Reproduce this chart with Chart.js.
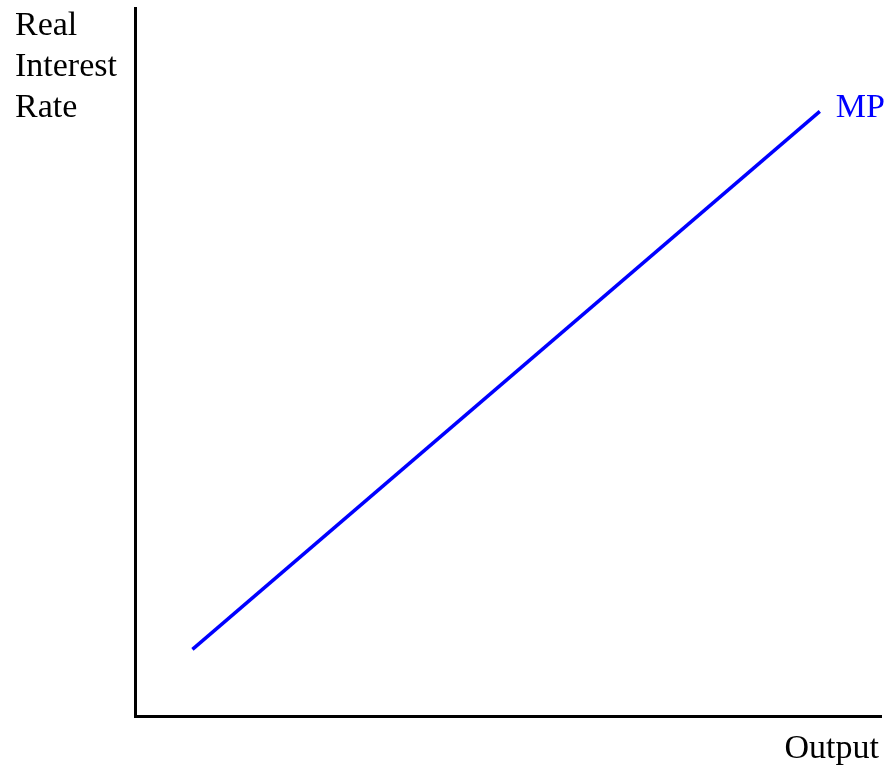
<!DOCTYPE html>
<html>
<head>
    <title>MP Curve</title>
    <script src="https://cdn.jsdelivr.net/npm/chart.js@4"></script>
    <style>
        body { margin: 0; background: #fff; }
    </style>
</head>
<body>
    <canvas id="mpChart" width="891" height="767"></canvas>

    <script>
        // MP curve, two end points (axes 0..100)
        const outputVals = [7.7, 91.8];
        const rateVals = [9.4, 85.4];
        const curveName = 'MP';
        const yTitleLines = ['Real', 'Interest', 'Rate'];
        const xTitle = 'Output';

        const serif = '34px "Liberation Serif", "Times New Roman", serif';

        const labelPlugin = {
            id: 'labels',
            afterDraw(chart) {
                const ctx = chart.ctx;
                const area = chart.chartArea;
                ctx.save();
                ctx.font = serif;
                ctx.textBaseline = 'alphabetic';
                ctx.fillStyle = '#000';
                ctx.textAlign = 'left';
                yTitleLines.forEach((t, i) => ctx.fillText(t, 15, 35 + i * 41));
                ctx.textAlign = 'right';
                ctx.fillText(xTitle, area.right - 2, area.bottom + 42);

                const pts = chart.getDatasetMeta(0).data;
                const last = pts[pts.length - 1];
                ctx.fillStyle = '#0000ff';
                ctx.textAlign = 'left';
                ctx.fillText(curveName, last.x + 16, last.y + 6);
                ctx.restore();
            }
        };

        const ctx = document.getElementById('mpChart').getContext('2d');
        new Chart(ctx, {
            type: 'line',
            data: {
                datasets: [{
                    label: curveName,
                    data: outputVals.map((x, i) => ({ x: x, y: rateVals[i] })),
                    borderColor: '#0000ff',
                    borderWidth: 3.5,
                    pointRadius: 0,
                    fill: false
                }]
            },
            options: {
                responsive: false,
                animation: false,
                devicePixelRatio: 1,
                layout: { padding: { left: 127, top: 8, right: 10, bottom: 43 } },
                plugins: { legend: { display: false }, tooltip: { enabled: false } },
                scales: {
                    x: {
                        type: 'linear', min: 0, max: 100,
                        grid: { display: false },
                        ticks: { display: false },
                        border: { display: true, color: '#000', width: 3 }
                    },
                    y: {
                        min: 0, max: 100,
                        grid: { display: false },
                        ticks: { display: false },
                        border: { display: true, color: '#000', width: 3 }
                    }
                }
            },
            plugins: [labelPlugin]
        });
    </script>
</body>
</html>
